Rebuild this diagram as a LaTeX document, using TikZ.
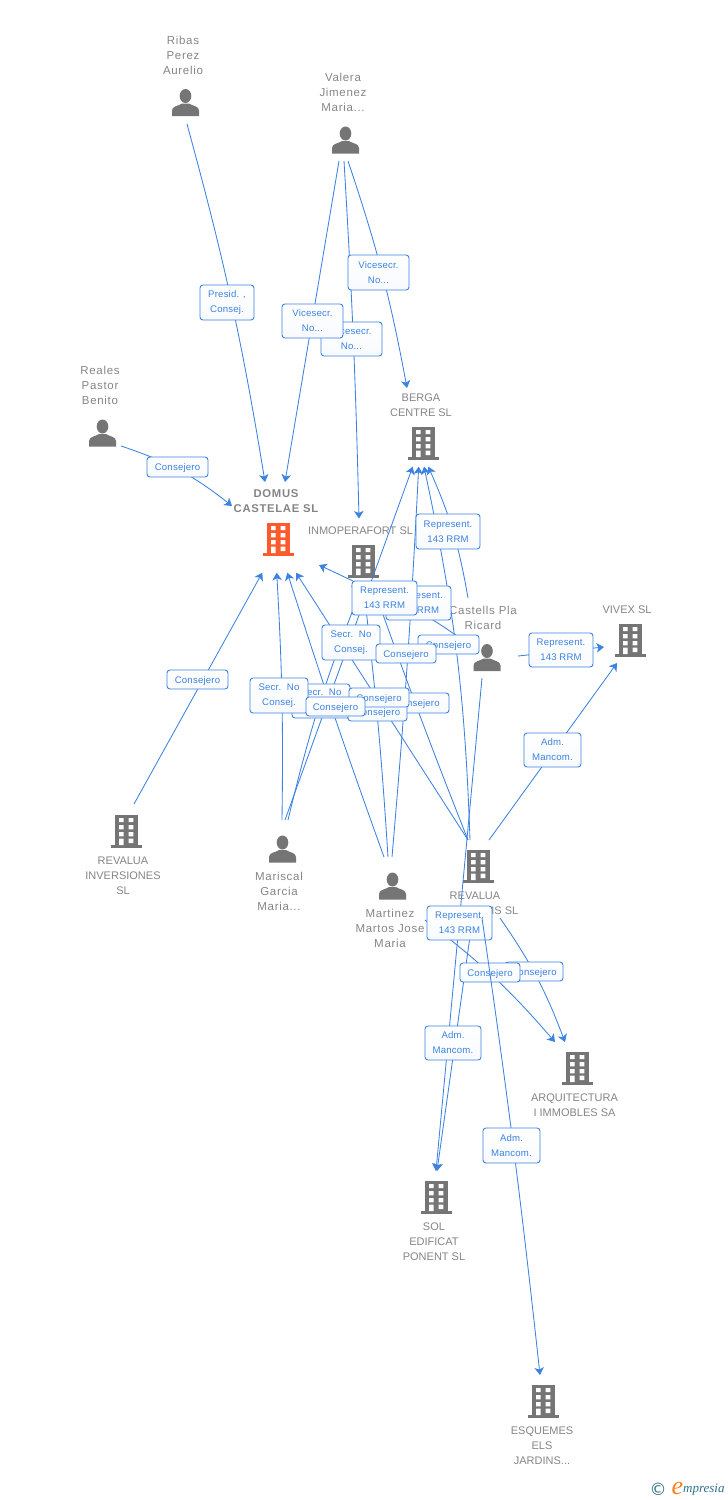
\documentclass[tikz,border=0pt]{standalone}
\usepackage{fontspec}
\setmainfont{Liberation Sans}
\newfontfamily\logofont{Liberation Serif}
\newfontfamily\symfont{DejaVu Sans}
\newfontfamily\trackfont[LetterSpace=6]{Liberation Sans}
\newfontfamily\labelfont[LetterSpace=2]{Liberation Sans}
\usetikzlibrary{arrows.meta}
\definecolor{linkblue}{HTML}{3C82E0}
\definecolor{icongrey}{HTML}{757575}
\definecolor{namegrey}{HTML}{858585}
\definecolor{hotorange}{HTML}{FF5A2B}
\definecolor{logoteal}{HTML}{2F7189}
\definecolor{logoorange}{HTML}{F58220}
\tikzset{
  link/.style={draw=linkblue,line width=0.85pt},
  linkto/.style={link,-{Stealth[length=7.5pt,width=9.5pt,inset=2pt]}},
  lbl/.style={draw=linkblue,line width=0.9pt,rounded corners=3pt,top color=white,bottom color=white!96!linkblue,
    text=linkblue,inner sep=0pt,align=center,font=\labelfont\fontsize{9.6}{15}\selectfont},
  lblone/.style={lbl,text height=7.5pt,text depth=0pt},
  ent/.style={text=namegrey,inner sep=0pt,align=center,font=\fontsize{11}{15}\selectfont},
  who/.style={ent,font=\trackfont\fontsize{11.5}{15}\selectfont},
  entb/.style={ent,font=\trackfont\fontsize{11.3}{15}\selectfont\bfseries},
  person/.pic={
    \fill[icongrey] (0,-6.5) ellipse (5.8 and 7);
    \fill[icongrey] (-13.5,13.5) -- (-13.5,8) .. controls (-13.5,3.5) and (-7,3.5) .. (-3.5,1)
      -- (3.5,1) .. controls (7,3.5) and (13.5,3.5) .. (13.5,8) -- (13.5,13.5) -- cycle;
  },
  building/.pic={
    \fill[pic actions] (-11,-16.5) rectangle (11.5,15);
    \fill[pic actions] (-15.5,14) rectangle (16,17);
    \fill[white] (-7,-13) rectangle (-2.4,-9) (2.7,-13) rectangle (7.3,-9)
      (-7,-6) rectangle (-2.4,-1.7) (2.7,-6) rectangle (7.3,-1.7)
      (-7,1) rectangle (-2.4,5.3) (2.7,1) rectangle (7.3,5.3)
      (-7,7.7) rectangle (-2.4,14) (2.7,7.7) rectangle (7.3,12);
  }
}
\begin{document}
\begin{tikzpicture}[x=1pt,y=-1pt]
\useasboundingbox (0,0) rectangle (728,1500);
% icons
\pic at (185.5,102.5) {person};
\pic at (345.5,140) {person};
\pic at (102.5,433) {person};
\pic at (487,657.5) {person};
\pic at (282.5,849) {person};
\pic at (392.5,886) {person};
\pic[fill=hotorange] at (278,539) {building};
\pic[fill=icongrey] at (363,561) {building};
\pic[fill=icongrey] at (423,443) {building};
\pic[fill=icongrey] at (630,640) {building};
\pic[fill=icongrey] at (126,831) {building};
\pic[fill=icongrey] at (478,866) {building};
\pic[fill=icongrey] at (577,1068) {building};
\pic[fill=icongrey] at (436,1197) {building};
\pic[fill=icongrey] at (543,1401) {building};
% entity names
\node[who] (ribas) at (183,55) {Ribas\\Perez\\Aurelio};
\node[who] (valera) at (343,92) {Valera\\Jimenez\\Maria...};
\node[who] (reales) at (100,385) {Reales\\Pastor\\Benito};
\node[ent] (berga) at (421,405.5) {BERGA\\CENTRE SL};
\node[entb] (domus) at (276,501) {DOMUS\\CASTELAE SL};
\node[ent] (inmo) at (360.5,531) {INMOPERAFORT SL};
\node[who] (castells) at (483,617.5) {Castells Pla\\Ricard};
\node[ent] (vivex) at (627,610) {VIVEX SL};
\node[ent] (revinv) at (123,876) {REVALUA\\INVERSIONES\\SL};
\node[who] (mariscal) at (279,891) {Mariscal\\Garcia\\Maria...};
\node[who] (martinez) at (390,928) {Martinez\\Martos Jose\\Maria};
\node[ent] (revalua) at (475,896) {REVALUA};
\node[ent,anchor=east] (revaluab) at (518.5,911) {IS SL};
\node[ent] (arq) at (574.5,1105.5) {ARQUITECTURA\\I IMMOBLES SA};
\node[ent] (sol) at (434,1242) {SOL\\EDIFICAT\\PONENT SL};
\node[ent] (esq) at (542,1446) {ESQUEMES\\ELS\\JARDINS...};
% connector ends
\coordinate (ribasS) at (187,124);
\coordinate (valeraA) at (339,161);
\coordinate (valeraB) at (344,161);
\coordinate (valeraC) at (348,161);
\coordinate (realesE) at (121,446);
\coordinate (domusN1) at (265,482);
\coordinate (domusN2) at (285,482);
\coordinate (domusW) at (232,506);
\coordinate (domusS1) at (262.3,572.7);
\coordinate (domusS2) at (276.7,572.7);
\coordinate (domusS3) at (287.3,572.7);
\coordinate (domusS4) at (296,572.7);
\coordinate (domusE) at (319,565);
\coordinate (inmoN) at (359,518.5);
\coordinate (inmoW) at (353,581);
\coordinate (inmoS1) at (360,592);
\coordinate (inmoS2) at (364,592);
\coordinate (inmoS3) at (375,592);
\coordinate (inmoS4) at (351,586);
\coordinate (bergaN) at (407,388);
\coordinate (bergaS1) at (412.7,466.7);
\coordinate (bergaS2) at (418.7,466.7);
\coordinate (bergaS3) at (424,466.7);
\coordinate (bergaS4) at (428.3,466.7);
\coordinate (castN) at (468,598);
\coordinate (castW1) at (457,636);
\coordinate (castE) at (518,656);
\coordinate (castS) at (482,678);
\coordinate (vivexW) at (604,647);
\coordinate (vivexS) at (617,663);
\coordinate (revinvN) at (134,804);
\coordinate (marA) at (282,820);
\coordinate (marB) at (285,820);
\coordinate (marC) at (288,820);
\coordinate (mtzA) at (384,857);
\coordinate (mtzB) at (388,857);
\coordinate (mtzC) at (392,857);
\coordinate (mtzS) at (425,920);
\coordinate (revA) at (468,840);
\coordinate (revB) at (470,840);
\coordinate (revC) at (489,840);
\coordinate (revS1) at (474,908);
\coordinate (revS2) at (482,918);
\coordinate (revS3) at (500,918);
\coordinate (arqN1) at (555,1042);
\coordinate (arqN2) at (565,1042);
\coordinate (solN1) at (436,1171);
\coordinate (solN2) at (437,1171);
\coordinate (esqN) at (540,1375);
% connectors
\draw[linkto] (ribasS) to[bend left=3] (domusN1);
\draw[linkto] (valeraA) -- (domusN2);
\draw[linkto] (valeraB) to[bend left=1] (inmoN);
\draw[linkto] (valeraC) to[bend left=4] (bergaN);
\draw[linkto] (realesE) to[bend left=10] (domusW);
\draw[linkto] (revinvN) -- (domusS1);
\draw[linkto] (marA) to[bend right=2] (domusS2);
\draw[linkto] (mtzA) to[bend left=1] (domusS3);
\draw[linkto] (revA) -- (domusS4);
\draw[linkto] (inmoW) -- (domusE);
\draw[linkto] (marC) to[bend left=4] (inmoS1);
\draw[linkto] (mtzB) to[bend right=1.5] (inmoS2);
\draw[linkto] (revA) to[bend left=1] (inmoS3);
\draw[linkto] (castW1) to[bend right=10] (inmoS4);
\draw[linkto] (marB) -- (bergaS1);
\draw[linkto] (mtzC) to[bend right=1] (bergaS2);
\draw[linkto] (revB) to[bend right=5] (bergaS3);
\draw[linkto] (castN) to[bend right=7] (bergaS4);
\draw[linkto] (castE) -- (vivexW);
\draw[linkto] (revC) -- (vivexS);
\draw[linkto] (castS) -- (solN1);
\draw[linkto] (revS1) -- (solN2);
\draw[linkto] (mtzS) to[bend left=6] (arqN1);
\draw[linkto] (revS3) to[bend left=7] (arqN2);
% labels
\node[lbl,minimum width=54,minimum height=35] (l1) at (227,302.5) {Presid. ,\\Consej.};
\node[lbl,minimum width=61,minimum height=34] (l2) at (351.5,339) {Vicesecr.\\No...};
\node[lbl,minimum width=61,minimum height=34] (l3) at (312.5,321) {Vicesecr.\\No...};
\node[lbl,minimum width=61,minimum height=35] (l4) at (378.5,272.5) {Vicesecr.\\No...};
\node[lblone,minimum width=61,minimum height=20] (l5) at (177.5,467) {Consejero};
\node[lbl,minimum width=64,minimum height=35] (l6) at (448,531.5) {Represent.\\143 RRM};
\node[lbl,minimum width=65,minimum height=34] (l7) at (418.5,603) {Represent.\\143 RRM};
\node[lbl,minimum width=65,minimum height=34] (l8) at (384.5,598) {Represent.\\143 RRM};
\node[lblone,minimum width=61,minimum height=19] (l9) at (448.5,644.5) {Consejero};
\node[lbl,minimum width=64,minimum height=34] (l10) at (561,650) {Represent.\\143 RRM};
\node[lbl,minimum width=57,minimum height=34] (l11) at (552.5,750) {Adm.\\Mancom.};
\node[lbl,minimum width=58,minimum height=35] (l12) at (351,642.5) {Secr.\ \ No\\Consej.};
\node[lblone,minimum width=60,minimum height=19] (l13) at (406,653.5) {Consejero};
\node[lblone,minimum width=61,minimum height=19] (l14) at (197.5,679.5) {Consejero};
\node[lbl,minimum width=58,minimum height=34] (l15) at (321,701) {Secr.\ \ No\\Consej.};
\node[lbl,minimum width=58,minimum height=35] (l16) at (279,695.5) {Secr.\ \ No\\Consej.};
\node[lblone,minimum width=64,minimum height=20] (l17) at (417,703) {Consejero};
\node[lblone,minimum width=59,minimum height=19] (l18) at (377.5,711.5) {Consejero};
\node[lblone,minimum width=60,minimum height=19] (l19) at (379,697.5) {Consejero};
\node[lblone,minimum width=59,minimum height=19] (l20) at (335.5,706.5) {Consejero};
\node[lblone,minimum width=58,minimum height=19] (l21) at (534,971.5) {Consejero};
\node[lbl,minimum width=65,minimum height=34] (l22) at (459.5,923) {Represent.\\143 RRM};
\node[lblone,minimum width=60,minimum height=19] (l23) at (490,972.5) {Consejero};
\node[lbl,minimum width=56,minimum height=34] (l24) at (453,1043) {Adm.\\Mancom.};
\draw[linkto] (revS2) to[bend left=1] (esqN);
\node[lbl,minimum width=57,minimum height=35] (l25) at (511.5,1145.5) {Adm.\\Mancom.};
% logo
\node[inner sep=0pt,text=logoteal,font=\symfont\fontsize{17}{17}\selectfont] (copy) at (658,1489) {©};
\node[inner sep=0pt,text=logoorange,font=\logofont\itshape\fontsize{26}{26}\selectfont] (logoe) at (677.5,1488) {e};
\node[inner sep=0pt,anchor=base west,text=logoteal,font=\logofont\itshape\fontsize{13}{13}\selectfont] (logot) at (683,1492) {mpresia};
\end{tikzpicture}
\end{document}
